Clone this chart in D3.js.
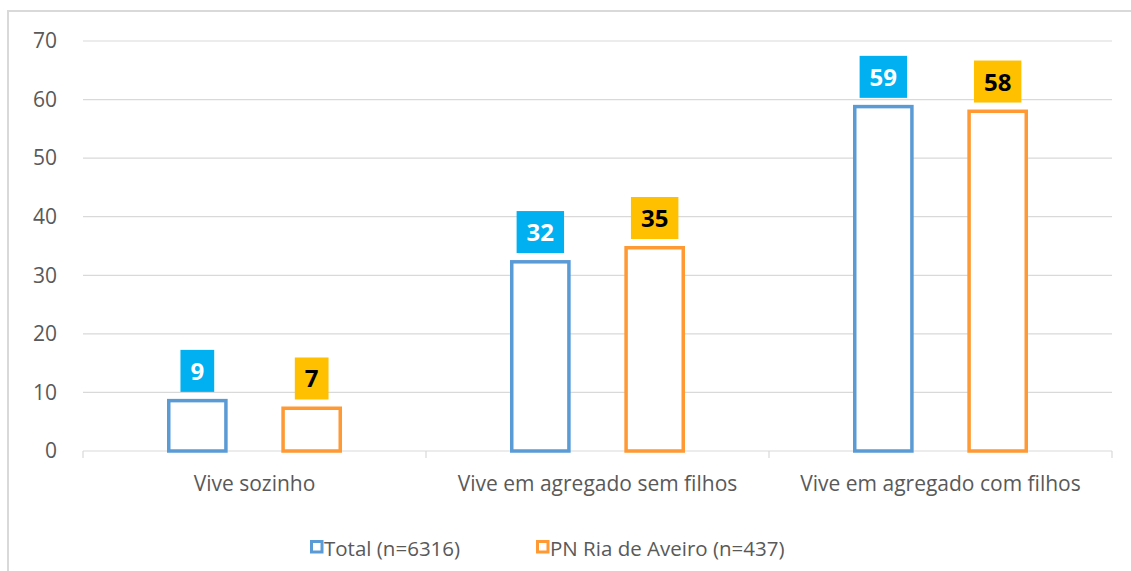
<!DOCTYPE html>
<html><head><meta charset="utf-8">
<script src="https://cdn.jsdelivr.net/npm/d3@7"></script>
<style>html,body{margin:0;padding:0;background:#fff;}svg{display:block;}</style>
</head><body>
<script>
const categories = ["Vive sozinho", "Vive em agregado sem filhos", "Vive em agregado com filhos"];
const seriesNames = ["Total (n=6316)", "PN Ria de Aveiro (n=437)"];
const totalValues = [8.6, 32.3, 58.8];
const pnValues = [7.3, 34.7, 58.0];
const yTicks = [0, 10, 20, 30, 40, 50, 60, 70];

const W = 1131, H = 571;
const font = "'Open Sans', sans-serif";
const strokeColors = ["#5B9BD5", "#FF9933"];
const boxColors = ["#00B0F0", "#FFC000"];
const labelColors = ["#FFFFFF", "#000000"];

const svg = d3.select("body").append("svg").attr("width", W).attr("height", H);

// chart border
svg.append("path").attr("d", `M8,${H+2} L8,11 L${W+2},11`).attr("fill", "none")
  .attr("stroke", "#D9D9D9").attr("stroke-width", 2);

const x0 = d3.scaleBand().domain(categories).range([83, 1112]).padding(0);
const w = x0.bandwidth() / 6;
const x1 = d3.scaleBand().domain(seriesNames).range([1.5 * w, 4.5 * w]).paddingInner(0.5);
const y = d3.scaleLinear().domain([0, 70]).range([451, 41]);

// gridlines
svg.append("g").selectAll("line").data(yTicks.filter(t => t > 0)).join("line")
  .attr("x1", 83).attr("x2", 1112).attr("y1", d => y(d)).attr("y2", d => y(d))
  .attr("stroke", "#D9D9D9").attr("stroke-width", 1.2);

// y axis labels
const yAxis = svg.append("g").attr("transform", "translate(83,0)")
  .call(d3.axisLeft(y).tickValues(yTicks).tickSize(0).tickPadding(26));
yAxis.select(".domain").remove();
yAxis.selectAll("text").attr("font-family", font).attr("font-size", 21).attr("fill", "#595959");

// x axis
const xAxisG = svg.append("g").attr("transform", `translate(0,${y(0)})`);
xAxisG.append("line").attr("x1", 83).attr("x2", 1112).attr("stroke", "#D9D9D9").attr("stroke-width", 1.2);
const bounds = categories.map(c => x0(c)).concat([x0(categories[categories.length-1]) + x0.bandwidth()]);
xAxisG.selectAll("line.tk").data(bounds).join("line").attr("class", "tk")
  .attr("x1", d => d).attr("x2", d => d).attr("y1", 0).attr("y2", 7)
  .attr("stroke", "#D9D9D9").attr("stroke-width", 1.2);
xAxisG.selectAll("text").data(categories).join("text")
  .attr("x", d => x0(d) + x0.bandwidth() / 2).attr("y", 40)
  .attr("text-anchor", "middle").attr("font-family", font).attr("font-size", 21)
  .attr("fill", "#595959").text(d => d);

// bars
const data = categories.map((c, i) => ({cat: c, vals: [totalValues[i], pnValues[i]]}));
const groups = svg.append("g").selectAll("g").data(data).join("g")
  .attr("transform", d => `translate(${x0(d.cat)},0)`);
groups.selectAll("rect").data(d => d.vals.map((v, i) => ({v, i, s: seriesNames[i]}))).join("rect")
  .attr("x", d => x1(d.s)).attr("width", x1.bandwidth())
  .attr("y", d => y(d.v)).attr("height", d => y(0) - y(d.v))
  .attr("fill", "#FFFFFF").attr("stroke", d => strokeColors[d.i]).attr("stroke-width", 3.5);

// data labels
groups.each(function(d) {
  const g = d3.select(this);
  d.vals.forEach((v, i) => {
    const cx = x1(seriesNames[i]) + x1.bandwidth() / 2;
    const top = y(v) - 1.75;
    const lg = g.append("g");
    const t = lg.append("text").attr("x", cx).attr("y", top - 7 - 21 + 9)
      .attr("text-anchor", "middle").attr("font-family", font).attr("font-weight", "bold")
      .attr("font-size", 24).attr("fill", labelColors[i]).text(d3.format("d")(Math.round(v)));
    const tw = t.node().getComputedTextLength();
    lg.insert("rect", "text").attr("x", cx - tw / 2 - 10).attr("width", tw + 20)
      .attr("y", top - 7 - 42).attr("height", 42).attr("fill", boxColors[i]);
  });
});

// legend
const legendX = [310, 536];
const lg = svg.append("g").selectAll("g").data(seriesNames).join("g")
  .attr("transform", (d, i) => `translate(${legendX[i]},547)`);
lg.append("rect").attr("x", 1.5).attr("y", -5.5).attr("width", 10.5).attr("height", 10.5)
  .attr("fill", "#fff").attr("stroke", (d, i) => strokeColors[i]).attr("stroke-width", 3);
lg.append("text").attr("x", 14).attr("y", 9).attr("font-family", font).attr("font-size", 20.5)
  .attr("fill", "#595959").text(d => d);
</script>
</body></html>
